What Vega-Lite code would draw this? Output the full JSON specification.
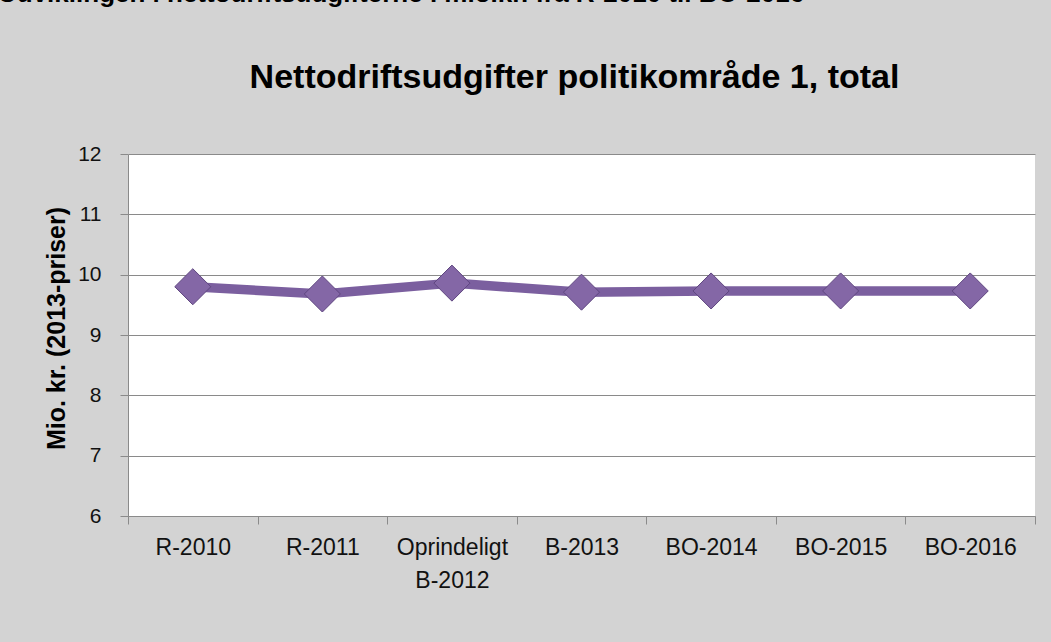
{
  "$schema": "https://vega.github.io/schema/vega-lite/v6.json",
  "autosize": {"type": "none"},
  "padding": {"left": 128, "top": 154, "right": 16, "bottom": 126},
  "width": 907,
  "height": 362,
  "background": "#d3d3d3",
  "title": {
    "text": "Udviklingen i nettodriftsudgifterne i mio.kr. fra R-2010 til BO-2016",
    "anchor": "start",
    "frame": "group",
    "orient": "top",
    "baseline": "alphabetic",
    "offset": 32,
    "dx": -130,
    "font": "Liberation Sans",
    "fontSize": 26,
    "fontWeight": "bold",
    "color": "#000000"
  },
  "data": {
    "values": [
      {"periode": "R-2010", "mio": 9.80},
      {"periode": "R-2011", "mio": 9.68},
      {"periode": "Oprindeligt B-2012", "mio": 9.86},
      {"periode": "B-2013", "mio": 9.71},
      {"periode": "BO-2014", "mio": 9.73},
      {"periode": "BO-2015", "mio": 9.73},
      {"periode": "BO-2016", "mio": 9.73}
    ]
  },
  "layer": [
    {
      "mark": {"type": "line", "color": "#7b5f9f", "strokeWidth": 9.5, "strokeJoin": "round"},
      "encoding": {
        "x": {
          "field": "periode", "type": "nominal", "sort": null, "bandPosition": 0.5,
          "scale": {"type": "band", "paddingInner": 0, "paddingOuter": 0},
          "axis": {
            "orient": "bottom", "title": null, "labelAngle": 0, "tickBand": "extent",
            "domainColor": "#8a8a8a", "tickColor": "#8a8a8a", "tickSize": 8,
            "labelFont": "Liberation Sans", "labelFontSize": 23, "labelColor": "#111111",
            "labelPadding": 12, "labelLineHeight": 33, "labelBaseline": "top",
            "labelExpr": "datum.value == 'Oprindeligt B-2012' ? ['Oprindeligt', 'B-2012'] : datum.label",
            "grid": false
          }
        },
        "y": {
          "field": "mio", "type": "quantitative",
          "scale": {"domain": [6, 12], "nice": false, "zero": false},
          "axis": {
            "values": [6, 7, 8, 9, 10, 11, 12],
            "format": "d",
            "title": "Mio. kr. (2013-priser)",
            "titleFont": "Liberation Sans", "titleFontSize": 25, "titleFontWeight": "bold", "titleColor": "#000000",
            "titleAngle": -90, "titleX": -72, "titleY": 174, "titleAlign": "center", "titleBaseline": "middle",
            "labelFont": "Liberation Sans", "labelFontSize": 21, "labelColor": "#111111", "labelPadding": 19,
            "domainColor": "#8a8a8a", "tickColor": "#8a8a8a", "tickSize": 8,
            "gridColor": "#8a8a8a", "gridWidth": 1, "grid": true
          }
        }
      }
    },
    {
      "mark": {"type": "point", "shape": "diamond", "size": 1300, "filled": true, "fill": "#8467a6", "stroke": "#5f4680", "strokeWidth": 1, "opacity": 1},
      "encoding": {
        "x": {
          "field": "periode", "type": "nominal", "sort": null, "bandPosition": 0.5,
          "axis": {
            "orient": "top", "labels": false, "ticks": false, "domain": false, "grid": false,
            "title": "Nettodriftsudgifter politikområde 1, total",
            "titleFont": "Liberation Sans", "titleFontSize": 34, "titleFontWeight": "bold", "titleColor": "#000000",
            "titleX": 446, "titleY": -67, "titleAlign": "center", "titleBaseline": "alphabetic", "titleAngle": 0
          }
        },
        "y": {"field": "mio", "type": "quantitative"}
      }
    }
  ],
  "resolve": {"axis": {"x": "independent"}},
  "config": {"view": {"fill": "#ffffff", "stroke": null}}
}
